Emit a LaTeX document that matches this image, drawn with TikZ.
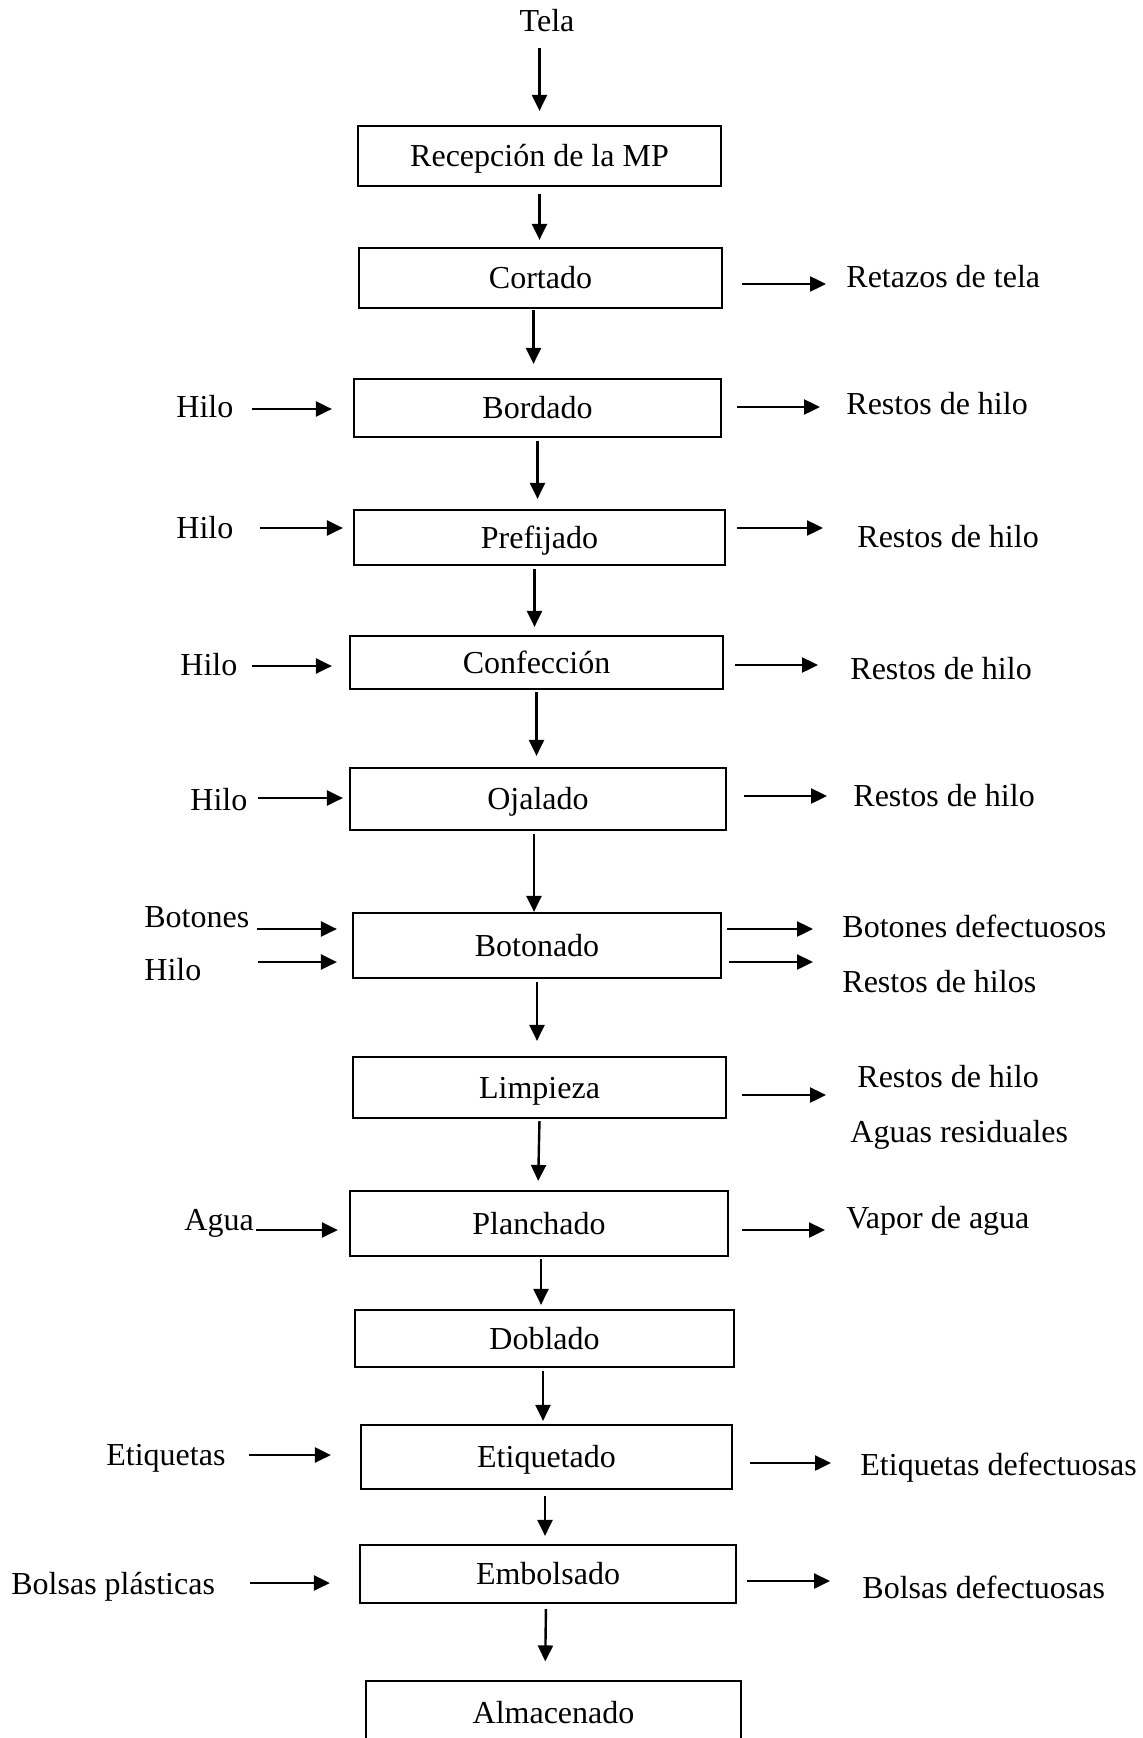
\documentclass[tikz,border=0pt]{standalone}
\usepackage{fontspec}
\setmainfont{Liberation Serif}
\usetikzlibrary{arrows.meta}
\begin{document}
\begin{tikzpicture}[x=0.5pt,y=-0.5pt,
  every node/.style={font=\fontsize{16pt}{19pt}\selectfont, inner sep=0pt},
  proc/.style={draw, line width=1.1pt, text height=10.5pt, text depth=0pt},
  lbl/.style={anchor=base west},
  arr/.style={line width=1.2pt, -{Triangle[length=8pt,width=7.5pt]}}]
\useasboundingbox (0,0) rectangle (1142,1738);
\clip (0,0) rectangle (1142,1738);

% process steps
\node[proc, minimum width=181.5pt, minimum height=30pt]   (rec) at (539.5,156)   {Recepción de la MP};
\node[proc, minimum width=181.5pt, minimum height=30pt]   (cor) at (540.5,278)   {Cortado};
\node[proc, minimum width=183.5pt, minimum height=29pt]   (bor) at (537.5,408)   {Bordado};
\node[proc, minimum width=185.5pt, minimum height=27.5pt] (pre) at (539.5,537.5) {Prefijado};
\node[proc, minimum width=186.5pt, minimum height=26.5pt] (con) at (536.5,662.5) {Confección};
\node[proc, minimum width=188pt,   minimum height=31pt]   (oja) at (538,799)     {Ojalado};
\node[proc, minimum width=184pt,   minimum height=32.5pt] (bot) at (537,945.5)   {Botonado};
\node[proc, minimum width=186.5pt, minimum height=30.5pt] (lim) at (539.5,1087.5){Limpieza};
\node[proc, minimum width=189pt,   minimum height=32.5pt] (pla) at (539,1223.5)  {Planchado};
\node[proc, minimum width=189.5pt, minimum height=28.5pt] (dob) at (544.5,1338.5){Doblado};
\node[proc, minimum width=185.5pt, minimum height=32pt]   (eti) at (546.5,1457)  {Etiquetado};
\node[proc, minimum width=188pt,   minimum height=29pt]   (emb) at (548,1574)    {Embolsado};
\node[proc, line width=0.6pt, minimum width=187.5pt, minimum height=32pt] (alm) at (553.5,1713) {Almacenado};

% inputs
\node[anchor=base] (tela) at (547,32) {Tela};
\node[lbl] (hilo1) at (176,417)  {Hilo};
\node[lbl] (hilo2) at (176,538)  {Hilo};
\node[lbl] (hilo3) at (180,675)  {Hilo};
\node[lbl] (hilo4) at (190,810)  {Hilo};
\node[lbl] (boto)  at (144,927)  {Botones};
\node[lbl] (hilo5) at (144,980)  {Hilo};
\node[lbl] (agua)  at (184,1230) {Agua};
\node[lbl] (etiq)  at (106,1465) {Etiquetas};
\node[lbl] (bols)  at (11,1594)  {Bolsas plásticas};

% outputs
\node[lbl] (ret)  at (846,288)  {Retazos de tela};
\node[lbl] (rh1)  at (846,414)  {Restos de hilo};
\node[lbl] (rh2)  at (857,547)  {Restos de hilo};
\node[lbl] (rh3)  at (850,679)  {Restos de hilo};
\node[lbl] (rh4)  at (853,806)  {Restos de hilo};
\node[lbl] (bdef) at (842,937)  {Botones defectuosos};
\node[lbl] (rhs)  at (842,992)  {Restos de hilos};
\node[lbl] (rh5)  at (857,1087) {Restos de hilo};
\node[lbl] (agr)  at (850,1142) {Aguas residuales};
\node[lbl] (vap)  at (846,1228) {Vapor de agua};
\node[lbl] (edef) at (860,1475) {Etiquetas defectuosas};
\node[lbl] (bdf)  at (862,1598) {Bolsas defectuosas};

% main flow
\draw[arr, shorten <=7.5pt, shorten >=7pt]   (rec.north |- tela.south) -- (rec.north);
\draw[arr, shorten <=3.5pt, shorten >=3.5pt] (rec.south) -- (rec.south |- cor.north);
\draw[arr, shorten <=0.5pt, shorten >=7pt]   ([xshift=-3.5pt]cor.south) -- ([xshift=-3.5pt]cor.south |- bor.north);
\draw[arr, shorten <=1.5pt, shorten >=5pt]   (bor.south) -- (bor.south |- pre.north);
\draw[arr, shorten <=1.5pt, shorten >=4pt]   ([xshift=-2.5pt]pre.south) -- ([xshift=-2.5pt]pre.south |- con.north);
\draw[arr, shorten <=1pt,   shorten >=5.5pt] (con.south) -- (con.south |- oja.north);
\draw[arr, shorten <=1.5pt, shorten >=0pt]   ([xshift=-2pt]oja.south) -- ([xshift=-2pt]oja.south |- bot.north);
\draw[arr, shorten <=1.5pt, shorten >=7.5pt] (bot.south) -- (bot.south |- lim.north);
\draw[arr, shorten <=1pt,   shorten >=4.5pt] (lim.south) -- ([xshift=-0.5pt]pla.north);
\draw[arr, shorten <=1pt,   shorten >=2pt]   ([xshift=1pt]pla.south) -- ([xshift=1pt]pla.south |- dob.north);
\draw[arr, shorten <=1.5pt, shorten >=1.5pt] ([xshift=-0.75pt]dob.south) -- ([xshift=-0.75pt]dob.south |- eti.north);
\draw[arr, shorten <=3pt,   shorten >=4pt]   ([xshift=-0.75pt]eti.south) -- ([xshift=-0.75pt]eti.south |- emb.north);
\draw[arr, shorten <=2.5pt, shorten >=9.5pt] ([xshift=-1pt]emb.south) -- ([xshift=-1.5pt]emb.south |- alm.north);

% input arrows
\draw[arr, shorten <=9pt,   shorten >=10.5pt] ([yshift=-0.5pt]bor.west -| hilo1.east) -- ([yshift=-0.5pt]bor.west);
\draw[arr, shorten <=13pt,  shorten >=5pt]    ([yshift=4.75pt]pre.west -| hilo2.east) -- ([yshift=4.75pt]pre.west);
\draw[arr, shorten <=7pt,   shorten >=8.5pt]  ([yshift=-1.75pt]con.west -| hilo3.east) -- ([yshift=-1.75pt]con.west);
\draw[arr, shorten <=5pt,   shorten >=3pt]    ([yshift=0.5pt]oja.west -| hilo4.east) -- ([yshift=0.5pt]oja.west);
\draw[arr, shorten <=3.5pt, shorten >=7.5pt]  ([yshift=8.25pt]bot.west -| boto.east) -- ([yshift=8.25pt]bot.west);
\draw[arr, shorten <=28pt,  shorten >=7.5pt]  ([yshift=-8.25pt]bot.west -| hilo5.east) -- ([yshift=-8.25pt]bot.west);
\draw[arr, shorten <=1pt,   shorten >=5.5pt]  ([yshift=-3.25pt]pla.west -| agua.east) -- ([yshift=-3.25pt]pla.west);
\draw[arr, shorten <=11.5pt,shorten >=14.5pt] ([yshift=1pt]eti.west -| etiq.east) -- ([yshift=1pt]eti.west);
\draw[arr, shorten <=17.5pt,shorten >=14.5pt] ([yshift=-4.5pt]emb.west -| bols.east) -- ([yshift=-4.5pt]emb.west);

% output arrows
\draw[arr, shorten <=9.5pt, shorten >=10pt]   ([yshift=-3pt]cor.east) -- ([yshift=-3pt]cor.east -| ret.west);
\draw[arr, shorten <=7.5pt, shorten >=13pt]   ([yshift=0.5pt]bor.east) -- ([yshift=0.5pt]bor.east -| rh1.west);
\draw[arr, shorten <=5.5pt, shorten >=17pt]   ([yshift=4.75pt]pre.east) -- ([yshift=4.75pt]pre.east -| rh2.west);
\draw[arr, shorten <=5.5pt, shorten >=16pt]   ([yshift=-1.25pt]con.east) -- ([yshift=-1.25pt]con.east -| rh3.west);
\draw[arr, shorten <=8.5pt, shorten >=13pt]   ([yshift=1.5pt]oja.east) -- ([yshift=1.5pt]oja.east -| rh4.west);
\draw[arr, shorten <=2.5pt, shorten >=14.5pt] ([yshift=8.25pt]bot.east) -- ([yshift=8.25pt]bot.east -| bdef.west);
\draw[arr, shorten <=3.5pt, shorten >=14.5pt] ([yshift=-8.25pt]bot.east) -- ([yshift=-8.25pt]bot.east -| rhs.west);
\draw[arr, shorten <=7.5pt, shorten >=15.5pt] ([yshift=-3.75pt]lim.east) -- ([yshift=-3.75pt]lim.east -| rh5.west);
\draw[arr, shorten <=6.5pt, shorten >=10.5pt] ([yshift=-3.25pt]pla.east) -- ([yshift=-3.25pt]pla.east -| vap.west);
\draw[arr, shorten <=8.5pt, shorten >=14.5pt] ([yshift=-3pt]eti.east) -- ([yshift=-3pt]eti.east -| edef.west);
\draw[arr, shorten <=5pt,   shorten >=16pt]   ([yshift=-3.5pt]emb.east) -- ([yshift=-3.5pt]emb.east -| bdf.west);
\end{tikzpicture}
\end{document}
